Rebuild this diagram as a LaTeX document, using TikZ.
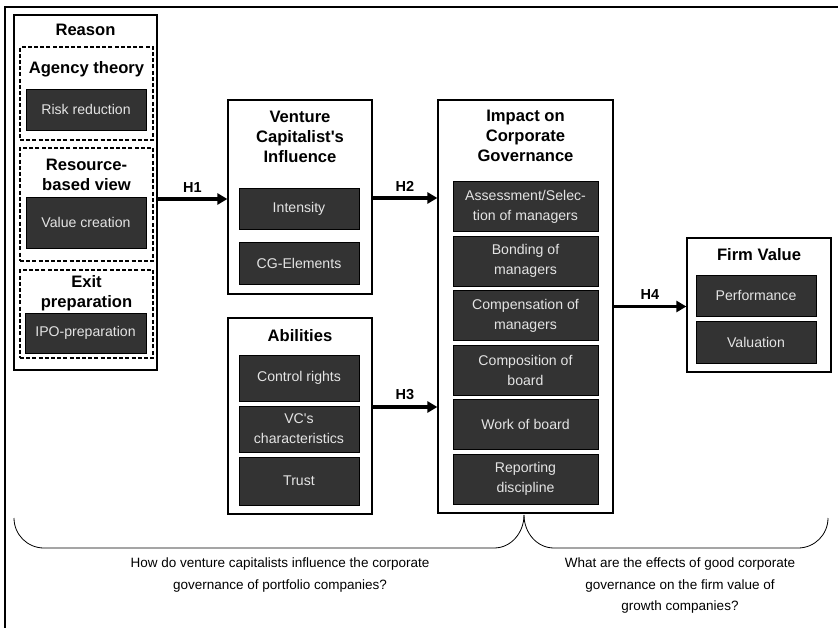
\documentclass[tikz,border=0pt]{standalone}
\usepackage{fontspec}
\setmainfont{Liberation Sans}
\usetikzlibrary{arrows.meta,positioning,shadows}

\definecolor{itemfill}{HTML}{333333}
\definecolor{itemtext}{HTML}{E4E4E4}

\tikzset{
  frame/.style={draw, line width=1.2pt, fill=white, inner sep=0pt,
    drop shadow={shadow xshift=1.1pt, shadow yshift=-1.1pt, fill=black, opacity=0.7}},
  dashframe/.style={draw, dash pattern=on 4pt off 2.2pt, line width=1.4pt, inner sep=0pt},
  item/.style={draw=black, line width=0.8pt, fill=itemfill, text=itemtext, align=center,
    inner sep=0pt, font=\fontsize{14.1}{20}\selectfont},
  head/.style={align=center, font=\bfseries\fontsize{16.6}{20}\selectfont},
  hyp/.style={line width=3.3pt, -{Triangle[length=10pt,width=11pt]}},
  hlabel/.style={above=2pt, font=\bfseries\fontsize{14.5}{16}\selectfont},
  question/.style={align=center, font=\fontsize{13.5}{21.5}\selectfont}
}

\begin{document}
\begin{tikzpicture}[x=1pt,y=-1pt]
%      \draw[help lines, step=50] (0,0) grid (838,628);
      \useasboundingbox (0,0) rectangle (838,628);
      \draw[line width=1.5pt] (5,628) -- (5,7) -- (838,7);

      % reason
      \node[frame, minimum width=143, minimum height=355] (reason) at (85.5,192.5) {};
      \node[head] (reasonhead) at (85.5,30) {Reason};
      \node[dashframe, minimum width=133, minimum height=93] (agency) at (86.5,93.5) {};
      \node[dashframe, minimum width=133, minimum height=113] (resource) at (86.5,204.5) {};
      \node[dashframe, minimum width=133, minimum height=88] (exitprep) at (86.5,314) {};
      \node[head] (agencyhead) at (86.5,69) {Agency theory};
      \node[head] (resourcehead) at (86.5,175) {Resource-\\based view};
      \node[head] (exithead) at (86.5,293) {Exit\\preparation};
      \node[item, minimum width=120, minimum height=41] (riskred) at (86,109.5) {Risk reduction};
      \node[item, minimum width=120, minimum height=51] (valcre) at (86,222.5) {Value creation};
      \node[item, minimum width=121, minimum height=40] (ipoprep) at (85.5,333) {IPO-preparation};

      % venture capitalist
      \node[frame, minimum width=144, minimum height=194] (influence) at (300,197) {};
      \node[head] (influencehead) at (300,137) {Venture\\Capitalist\textquotesingle s\\Influence};
      \node[item, minimum width=120, minimum height=41] (intensity) at (299,208.5) {Intensity};
      \node[item, minimum width=120, minimum height=42] (cgelem) at (299,263) {CG-Elements};

      \node[frame, minimum width=144, minimum height=196] (abilities) at (300,416) {};
      \node[head] (abilitieshead) at (300,336) {Abilities};
      \node[item, minimum width=120, minimum height=46] (ctrlrights) at (299,378) {Control rights};
      \node[item, minimum width=120, minimum height=46] (vcchar) at (299,429) {VC\textquotesingle s\\characteristics};
      \node[item, minimum width=120, minimum height=48] (trust) at (299,481) {Trust};

      % corporate governance
      \node[frame, minimum width=175, minimum height=413] (impact) at (525.5,306.5) {};
      \node[head] (impacthead) at (525.5,136) {Impact on\\Corporate\\Governance};
      \node[item, minimum width=145, minimum height=50] (assess) at (525.5,206.5) {Assessment/Selec-\\tion of managers};
      \node[item, minimum width=145, minimum height=50] (bonding) at (525.5,261) {Bonding of\\managers};
      \node[item, minimum width=145, minimum height=50] (compens) at (525.5,315.5) {Compensation of\\managers};
      \node[item, minimum width=145, minimum height=50] (composit) at (525.5,370) {Composition of\\board};
      \node[item, minimum width=145, minimum height=50] (workboard) at (525.5,424.5) {Work of board};
      \node[item, minimum width=145, minimum height=50] (reporting) at (525.5,479) {Reporting\\discipline};

      % firm value
      \node[frame, minimum width=144, minimum height=134] (firmvalue) at (759,305) {};
      \node[head] (firmhead) at (759,255) {Firm Value};
      \node[item, minimum width=120, minimum height=41] (perform) at (756,295.5) {Performance};
      \node[item, minimum width=120, minimum height=42] (valuat) at (756,342) {Valuation};

      % hypotheses
      \draw[hyp] ([yshift=-2pt]influence.west -| reason.east) -- node[hlabel] {H1} ([yshift=-2pt]influence.west);
      \draw[hyp] ([yshift=-1pt]influence.east) -- node[hlabel] {H2} ([yshift=-1pt]influence.east -| impact.west);
      \draw[hyp] ([yshift=9pt]abilities.east) -- node[hlabel] {H3} ([yshift=9pt]abilities.east -| impact.west);
      \draw[hyp] (impact.east) -- node[hlabel] {H4} (impact.east -| firmvalue.west);

      % research questions
      \coordinate (leftend) at (14,518);
      \coordinate (apex) at (524,515);
      \coordinate (rightend) at (828,518);
      \draw[line width=0.8pt] (leftend) to[out=-90,in=180] (44,548) -- (494,548) to[out=0,in=-90] (apex);
      \draw[line width=0.8pt] (apex) to[out=-90,in=180] (554,548) -- (798,548) to[out=0,in=-90] (rightend);
      \node[question] (question1) at (280,575) {How do venture capitalists influence the corporate\\governance of portfolio companies?};
      \node[question] (question2) at (680,586) {What are the effects of good corporate\\governance on the firm value of\\growth companies?};
\end{tikzpicture}
\end{document}
